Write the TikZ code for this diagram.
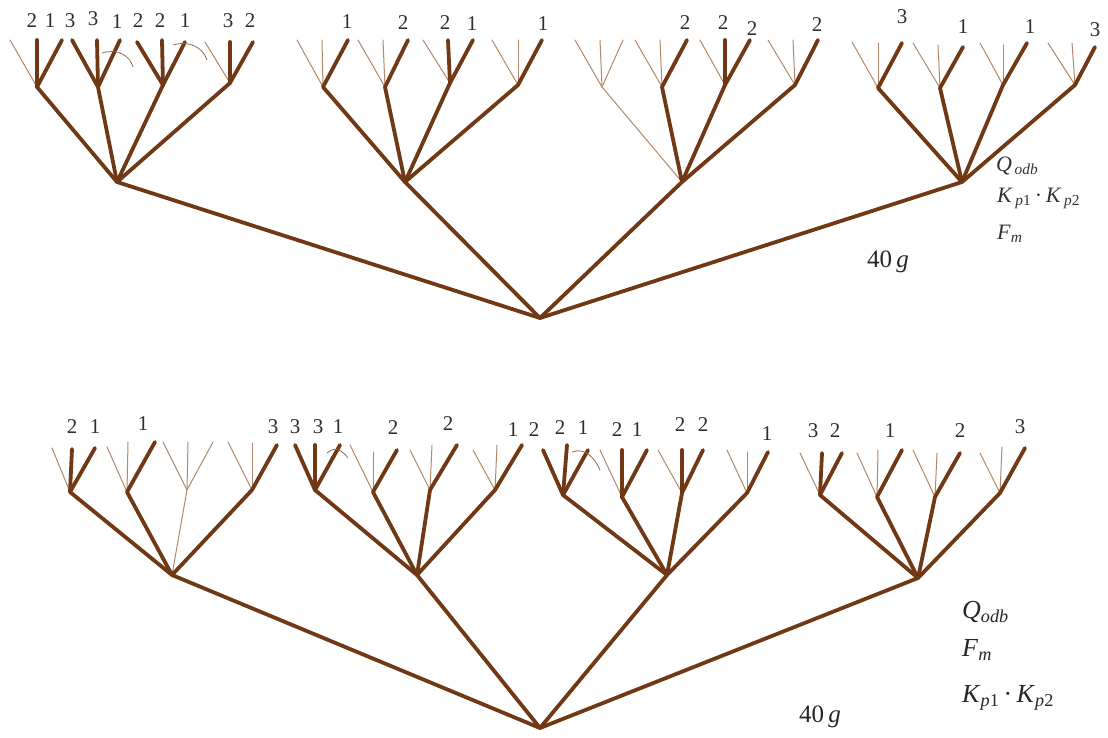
\documentclass[tikz,border=0pt]{standalone}
\usepackage{fontspec}
\setmainfont{Liberation Serif}
\definecolor{brD}{RGB}{112,56,20}
\definecolor{brL}{RGB}{178,135,105}
\tikzset{
  thk/.style={draw=brD, line width=3.8pt, line cap=round, line join=round},
  thn/.style={draw=brL, line width=1pt, line cap=round},
  arcl/.style={draw=brL!80!black, line width=0.8pt},
  lab/.style={font=\fontsize{21}{21}\selectfont, inner sep=0pt, text=black!82},
  mlab/.style={font=\fontsize{22}{24}\selectfont, inner sep=0pt, anchor=west, text=black!80},
  mlabb/.style={font=\fontsize{26}{28}\selectfont, inner sep=0pt, anchor=west, text=black!85},
  wlab/.style={font=\fontsize{25}{25}\selectfont, inner sep=0pt, text=black!85}
}
\begin{document}
\begin{tikzpicture}[x=1pt,y=-1pt]
\useasboundingbox (0,0) rectangle (1108,738);
%================ TOP TREE =================
\coordinate (R1) at (540,318);
\coordinate (A) at (117,182); \coordinate (B) at (405,182);
\coordinate (C) at (682,182); \coordinate (D) at (962,182);
\coordinate (A1) at (37,87);  \coordinate (A2) at (98,87);
\coordinate (A3) at (163,85); \coordinate (A4) at (230,83);
\coordinate (B1) at (323,87); \coordinate (B2) at (385,87);
\coordinate (B3) at (450,83); \coordinate (B4) at (518,85);
\coordinate (C1) at (602,87); \coordinate (C2) at (662,87);
\coordinate (C3) at (725,85); \coordinate (C4) at (795,85);
\coordinate (D1) at (878,88); \coordinate (D2) at (940,88);
\coordinate (D3) at (1003,85); \coordinate (D4) at (1075,85);
% leaves
\coordinate (a11) at (10,40);  \coordinate (a12) at (37,40);  \coordinate (a13) at (62,40);
\coordinate (a21) at (72,40);  \coordinate (a22) at (97,40);  \coordinate (a23) at (120,40);
\coordinate (a31) at (137,42); \coordinate (a32) at (162,40); \coordinate (a33) at (185,42);
\coordinate (a41) at (205,42); \coordinate (a42) at (230,42); \coordinate (a43) at (253,42);
\coordinate (b11) at (297,40); \coordinate (b12) at (322,40); \coordinate (b13) at (348,40);
\coordinate (b21) at (358,40); \coordinate (b22) at (383,40); \coordinate (b23) at (408,40);
\coordinate (b31) at (423,40); \coordinate (b32) at (448,40); \coordinate (b33) at (473,40);
\coordinate (b41) at (492,40); \coordinate (b42) at (518,40); \coordinate (b43) at (542,40);
\coordinate (c11) at (575,40); \coordinate (c12) at (600,40); \coordinate (c13) at (623,40);
\coordinate (c21) at (635,40); \coordinate (c22) at (660,40); \coordinate (c23) at (687,40);
\coordinate (c31) at (700,40); \coordinate (c32) at (725,40); \coordinate (c33) at (750,40);
\coordinate (c41) at (768,40); \coordinate (c42) at (793,40); \coordinate (c43) at (818,40);
\coordinate (d11) at (852,42); \coordinate (d12) at (878,43); \coordinate (d13) at (902,43);
\coordinate (d21) at (913,43); \coordinate (d22) at (938,45); \coordinate (d23) at (963,47);
\coordinate (d31) at (980,43); \coordinate (d32) at (1003,45); \coordinate (d33) at (1027,43);
\coordinate (d41) at (1048,43); \coordinate (d42) at (1072,43); \coordinate (d43) at (1095,47);
% thin edges
\draw[thn] (A1)--(a11); \draw[thn] (A4)--(a41);
\draw[thn] (B1)--(b11); \draw[thn] (B1)--(b12);
\draw[thn] (B2)--(b21); \draw[thn] (B2)--(b22);
\draw[thn] (B3)--(b31);
\draw[thn] (B4)--(b41); \draw[thn] (B4)--(b42);
\draw[thn] (C)--(C1);
\draw[thn] (C1)--(c11); \draw[thn] (C1)--(c12); \draw[thn] (C1)--(c13);
\draw[thn] (C2)--(c21); \draw[thn] (C2)--(c22);
\draw[thn] (C3)--(c31);
\draw[thn] (C4)--(c41); \draw[thn] (C4)--(c42);
\draw[thn] (D1)--(d11); \draw[thn] (D1)--(d12);
\draw[thn] (D2)--(d21); \draw[thn] (D2)--(d22);
\draw[thn] (D3)--(d31); \draw[thn] (D3)--(d32);
\draw[thn] (D4)--(d41); \draw[thn] (D4)--(d42);
% thick edges
\draw[thk] (R1)--(A); \draw[thk] (R1)--(B); \draw[thk] (R1)--(C); \draw[thk] (R1)--(D);
\draw[thk] (A)--(A1); \draw[thk] (A)--(A2); \draw[thk] (A)--(A3); \draw[thk] (A)--(A4);
\draw[thk] (B)--(B1); \draw[thk] (B)--(B2); \draw[thk] (B)--(B3); \draw[thk] (B)--(B4);
\draw[thk] (C)--(C2); \draw[thk] (C)--(C3); \draw[thk] (C)--(C4);
\draw[thk] (D)--(D1); \draw[thk] (D)--(D2); \draw[thk] (D)--(D3); \draw[thk] (D)--(D4);
\draw[thk] (A1)--(a12); \draw[thk] (A1)--(a13);
\draw[thk] (A2)--(a21); \draw[thk] (A2)--(a22); \draw[thk] (A2)--(a23);
\draw[thk] (A3)--(a31); \draw[thk] (A3)--(a32); \draw[thk] (A3)--(a33);
\draw[thk] (A4)--(a42); \draw[thk] (A4)--(a43);
\draw[thk] (B1)--(b13); \draw[thk] (B2)--(b23);
\draw[thk] (B3)--(b32); \draw[thk] (B3)--(b33); \draw[thk] (B4)--(b43);
\draw[thk] (C2)--(c23); \draw[thk] (C3)--(c32); \draw[thk] (C3)--(c33); \draw[thk] (C4)--(c43);
\draw[thk] (D1)--(d13); \draw[thk] (D2)--(d23); \draw[thk] (D3)--(d33); \draw[thk] (D4)--(d43);
% small arcs
\coordinate (u1) at (102,53); \coordinate (u2) at (133,67);
\coordinate (u3) at (173,45); \coordinate (u4) at (207,60);
\draw[arcl] (u1) .. controls (118,48) and (130,56) .. (u2);
\draw[arcl] (u3) .. controls (190,40) and (203,48) .. (u4);
% labels
\node[lab] (t1) at (32,21) {2};  \node[lab] (t2) at (50,21) {1};
\node[lab] (t3) at (70,21) {3};  \node[lab] (t4) at (93,19) {3};
\node[lab] (t5) at (117,22) {1}; \node[lab] (t6) at (138,21) {2};
\node[lab] (t7) at (160,21) {2}; \node[lab] (t8) at (185,21) {1};
\node[lab] (t9) at (228,21) {3}; \node[lab] (t10) at (250,21) {2};
\node[lab] (t11) at (347,22) {1}; \node[lab] (t12) at (403,23) {2};
\node[lab] (t13) at (445,23) {2}; \node[lab] (t14) at (472,24) {1};
\node[lab] (t15) at (543,24) {1};
\node[lab] (t16) at (685,23) {2}; \node[lab] (t17) at (723,23) {2};
\node[lab] (t18) at (752,29) {2}; \node[lab] (t19) at (817,25) {2};
\node[lab] (t20) at (902,17) {3}; \node[lab] (t21) at (963,27) {1};
\node[lab] (t22) at (1030,27) {1}; \node[lab] (t23) at (1095,30) {3};
\node[mlab] (q1) at (996,166) {\textit{Q}\textsubscript{\,\textit{odb}}};
\node[mlab] (k1) at (997,198) {\textit{K}\textsubscript{\,\textit{p}1}\,·\,\textit{K}\textsubscript{\,\textit{p}2}};
\node[mlab] (f1) at (997,234) {\textit{F}\textsubscript{\textit{m}}};
\node[wlab] (g1) at (888,262) {40\,\textit{g}};
%================ BOTTOM TREE =================
\coordinate (R2) at (540,728);
\coordinate (E) at (172,575); \coordinate (F) at (417,575);
\coordinate (G) at (667,575); \coordinate (H) at (918,578);
\coordinate (E1) at (70,492);  \coordinate (E2) at (127,492);
\coordinate (E3) at (187,490); \coordinate (E4) at (252,490);
\coordinate (F1) at (315,490); \coordinate (F2) at (373,492);
\coordinate (F3) at (430,490); \coordinate (F4) at (495,490);
\coordinate (G1) at (563,495); \coordinate (G2) at (622,497);
\coordinate (G3) at (682,493); \coordinate (G4) at (747,493);
\coordinate (H1) at (820,495); \coordinate (H2) at (877,497);
\coordinate (H3) at (935,497); \coordinate (H4) at (1000,493);
\coordinate (e11) at (52,448);  \coordinate (e12) at (72,449);  \coordinate (e13) at (95,448);
\coordinate (e21) at (107,447); \coordinate (e22) at (128,442); \coordinate (e23) at (155,442);
\coordinate (e31) at (163,442); \coordinate (e32) at (188,442); \coordinate (e33) at (213,442);
\coordinate (e41) at (228,442); \coordinate (e42) at (252,443); \coordinate (e43) at (277,445);
\coordinate (f11) at (295,445); \coordinate (f12) at (315,445); \coordinate (f13) at (340,445);
\coordinate (f21) at (350,445); \coordinate (f22) at (373,452); \coordinate (f23) at (397,450);
\coordinate (f31) at (410,450); \coordinate (f32) at (432,445); \coordinate (f33) at (457,445);
\coordinate (f41) at (473,450); \coordinate (f42) at (497,445); \coordinate (f43) at (522,445);
\coordinate (g11) at (543,450); \coordinate (g12) at (567,445); \coordinate (g13) at (588,450);
\coordinate (g21) at (600,450); \coordinate (g22) at (622,450); \coordinate (g23) at (647,450);
\coordinate (g31) at (658,450); \coordinate (g32) at (682,450); \coordinate (g33) at (703,450);
\coordinate (g41) at (727,450); \coordinate (g42) at (747,452); \coordinate (g43) at (768,452);
\coordinate (h11) at (800,453); \coordinate (h12) at (822,453); \coordinate (h13) at (842,453);
\coordinate (h21) at (857,453); \coordinate (h22) at (878,450); \coordinate (h23) at (902,450);
\coordinate (h31) at (913,450); \coordinate (h32) at (937,453); \coordinate (h33) at (960,453);
\coordinate (h41) at (980,453); \coordinate (h42) at (1002,447); \coordinate (h43) at (1025,448);
% thin edges
\draw[thn] (E1)--(e11);
\draw[thn] (E2)--(e21); \draw[thn] (E2)--(e22);
\draw[thn] (E)--(E3);
\draw[thn] (E3)--(e31); \draw[thn] (E3)--(e32); \draw[thn] (E3)--(e33);
\draw[thn] (E4)--(e41); \draw[thn] (E4)--(e42);
\draw[thn] (F2)--(f21); \draw[thn] (F2)--(f22);
\draw[thn] (F3)--(f31); \draw[thn] (F3)--(f32);
\draw[thn] (F4)--(f41); \draw[thn] (F4)--(f42);
\draw[thn] (G2)--(g21); \draw[thn] (G3)--(g31);
\draw[thn] (G4)--(g41); \draw[thn] (G4)--(g42);
\draw[thn] (H1)--(h11);
\draw[thn] (H2)--(h21); \draw[thn] (H2)--(h22);
\draw[thn] (H3)--(h31); \draw[thn] (H3)--(h32);
\draw[thn] (H4)--(h41); \draw[thn] (H4)--(h42);
% thick edges
\draw[thk] (R2)--(E); \draw[thk] (R2)--(F); \draw[thk] (R2)--(G); \draw[thk] (R2)--(H);
\draw[thk] (E)--(E1); \draw[thk] (E)--(E2); \draw[thk] (E)--(E4);
\draw[thk] (F)--(F1); \draw[thk] (F)--(F2); \draw[thk] (F)--(F3); \draw[thk] (F)--(F4);
\draw[thk] (G)--(G1); \draw[thk] (G)--(G2); \draw[thk] (G)--(G3); \draw[thk] (G)--(G4);
\draw[thk] (H)--(H1); \draw[thk] (H)--(H2); \draw[thk] (H)--(H3); \draw[thk] (H)--(H4);
\draw[thk] (E1)--(e12); \draw[thk] (E1)--(e13);
\draw[thk] (E2)--(e23); \draw[thk] (E4)--(e43);
\draw[thk] (F1)--(f11); \draw[thk] (F1)--(f12); \draw[thk] (F1)--(f13);
\draw[thk] (F2)--(f23); \draw[thk] (F3)--(f33); \draw[thk] (F4)--(f43);
\draw[thk] (G1)--(g11); \draw[thk] (G1)--(g12); \draw[thk] (G1)--(g13);
\draw[thk] (G2)--(g22); \draw[thk] (G2)--(g23);
\draw[thk] (G3)--(g32); \draw[thk] (G3)--(g33);
\draw[thk] (G4)--(g43);
\draw[thk] (H1)--(h12); \draw[thk] (H1)--(h13);
\draw[thk] (H2)--(h23); \draw[thk] (H3)--(h33); \draw[thk] (H4)--(h43);
% small arcs
\coordinate (v1) at (327,453); \coordinate (v2) at (348,458);
\coordinate (v3) at (572,452); \coordinate (v4) at (600,470);
\draw[arcl] (v1) .. controls (335,446) and (342,450) .. (v2);
\draw[arcl] (v3) .. controls (585,447) and (595,458) .. (v4);
% labels
\node[lab] (s1) at (72,427) {2};   \node[lab] (s2) at (95,427) {1};
\node[lab] (s3) at (143,424) {1};  \node[lab] (s4) at (273,427) {3};
\node[lab] (s5) at (295,427) {3};  \node[lab] (s6) at (318,427) {3};
\node[lab] (s7) at (338,427) {1};  \node[lab] (s8) at (393,428) {2};
\node[lab] (s9) at (448,424) {2};  \node[lab] (s10) at (513,430) {1};
\node[lab] (s11) at (534,430) {2}; \node[lab] (s12) at (560,428) {2};
\node[lab] (s13) at (583,428) {1}; \node[lab] (s14) at (617,430) {2};
\node[lab] (s15) at (637,430) {1}; \node[lab] (s16) at (680,425) {2};
\node[lab] (s17) at (703,425) {2}; \node[lab] (s18) at (767,434) {1};
\node[lab] (s19) at (813,431) {3}; \node[lab] (s20) at (835,431) {2};
\node[lab] (s21) at (890,431) {1}; \node[lab] (s22) at (960,431) {2};
\node[lab] (s23) at (1020,427) {3};
\node[mlabb] (q2) at (962,612) {\textit{Q}\textsubscript{\textit{odb}}};
\node[mlabb] (f2) at (962,650) {\textit{F}\textsubscript{\textit{m}}};
\node[mlabb] (k2) at (962,698) {\textit{K}\textsubscript{\textit{p}1}\,·\,\textit{K}\textsubscript{\textit{p}2}};
\node[wlab] (g2) at (820,717) {40\,\textit{g}};
\end{tikzpicture}
\end{document}
